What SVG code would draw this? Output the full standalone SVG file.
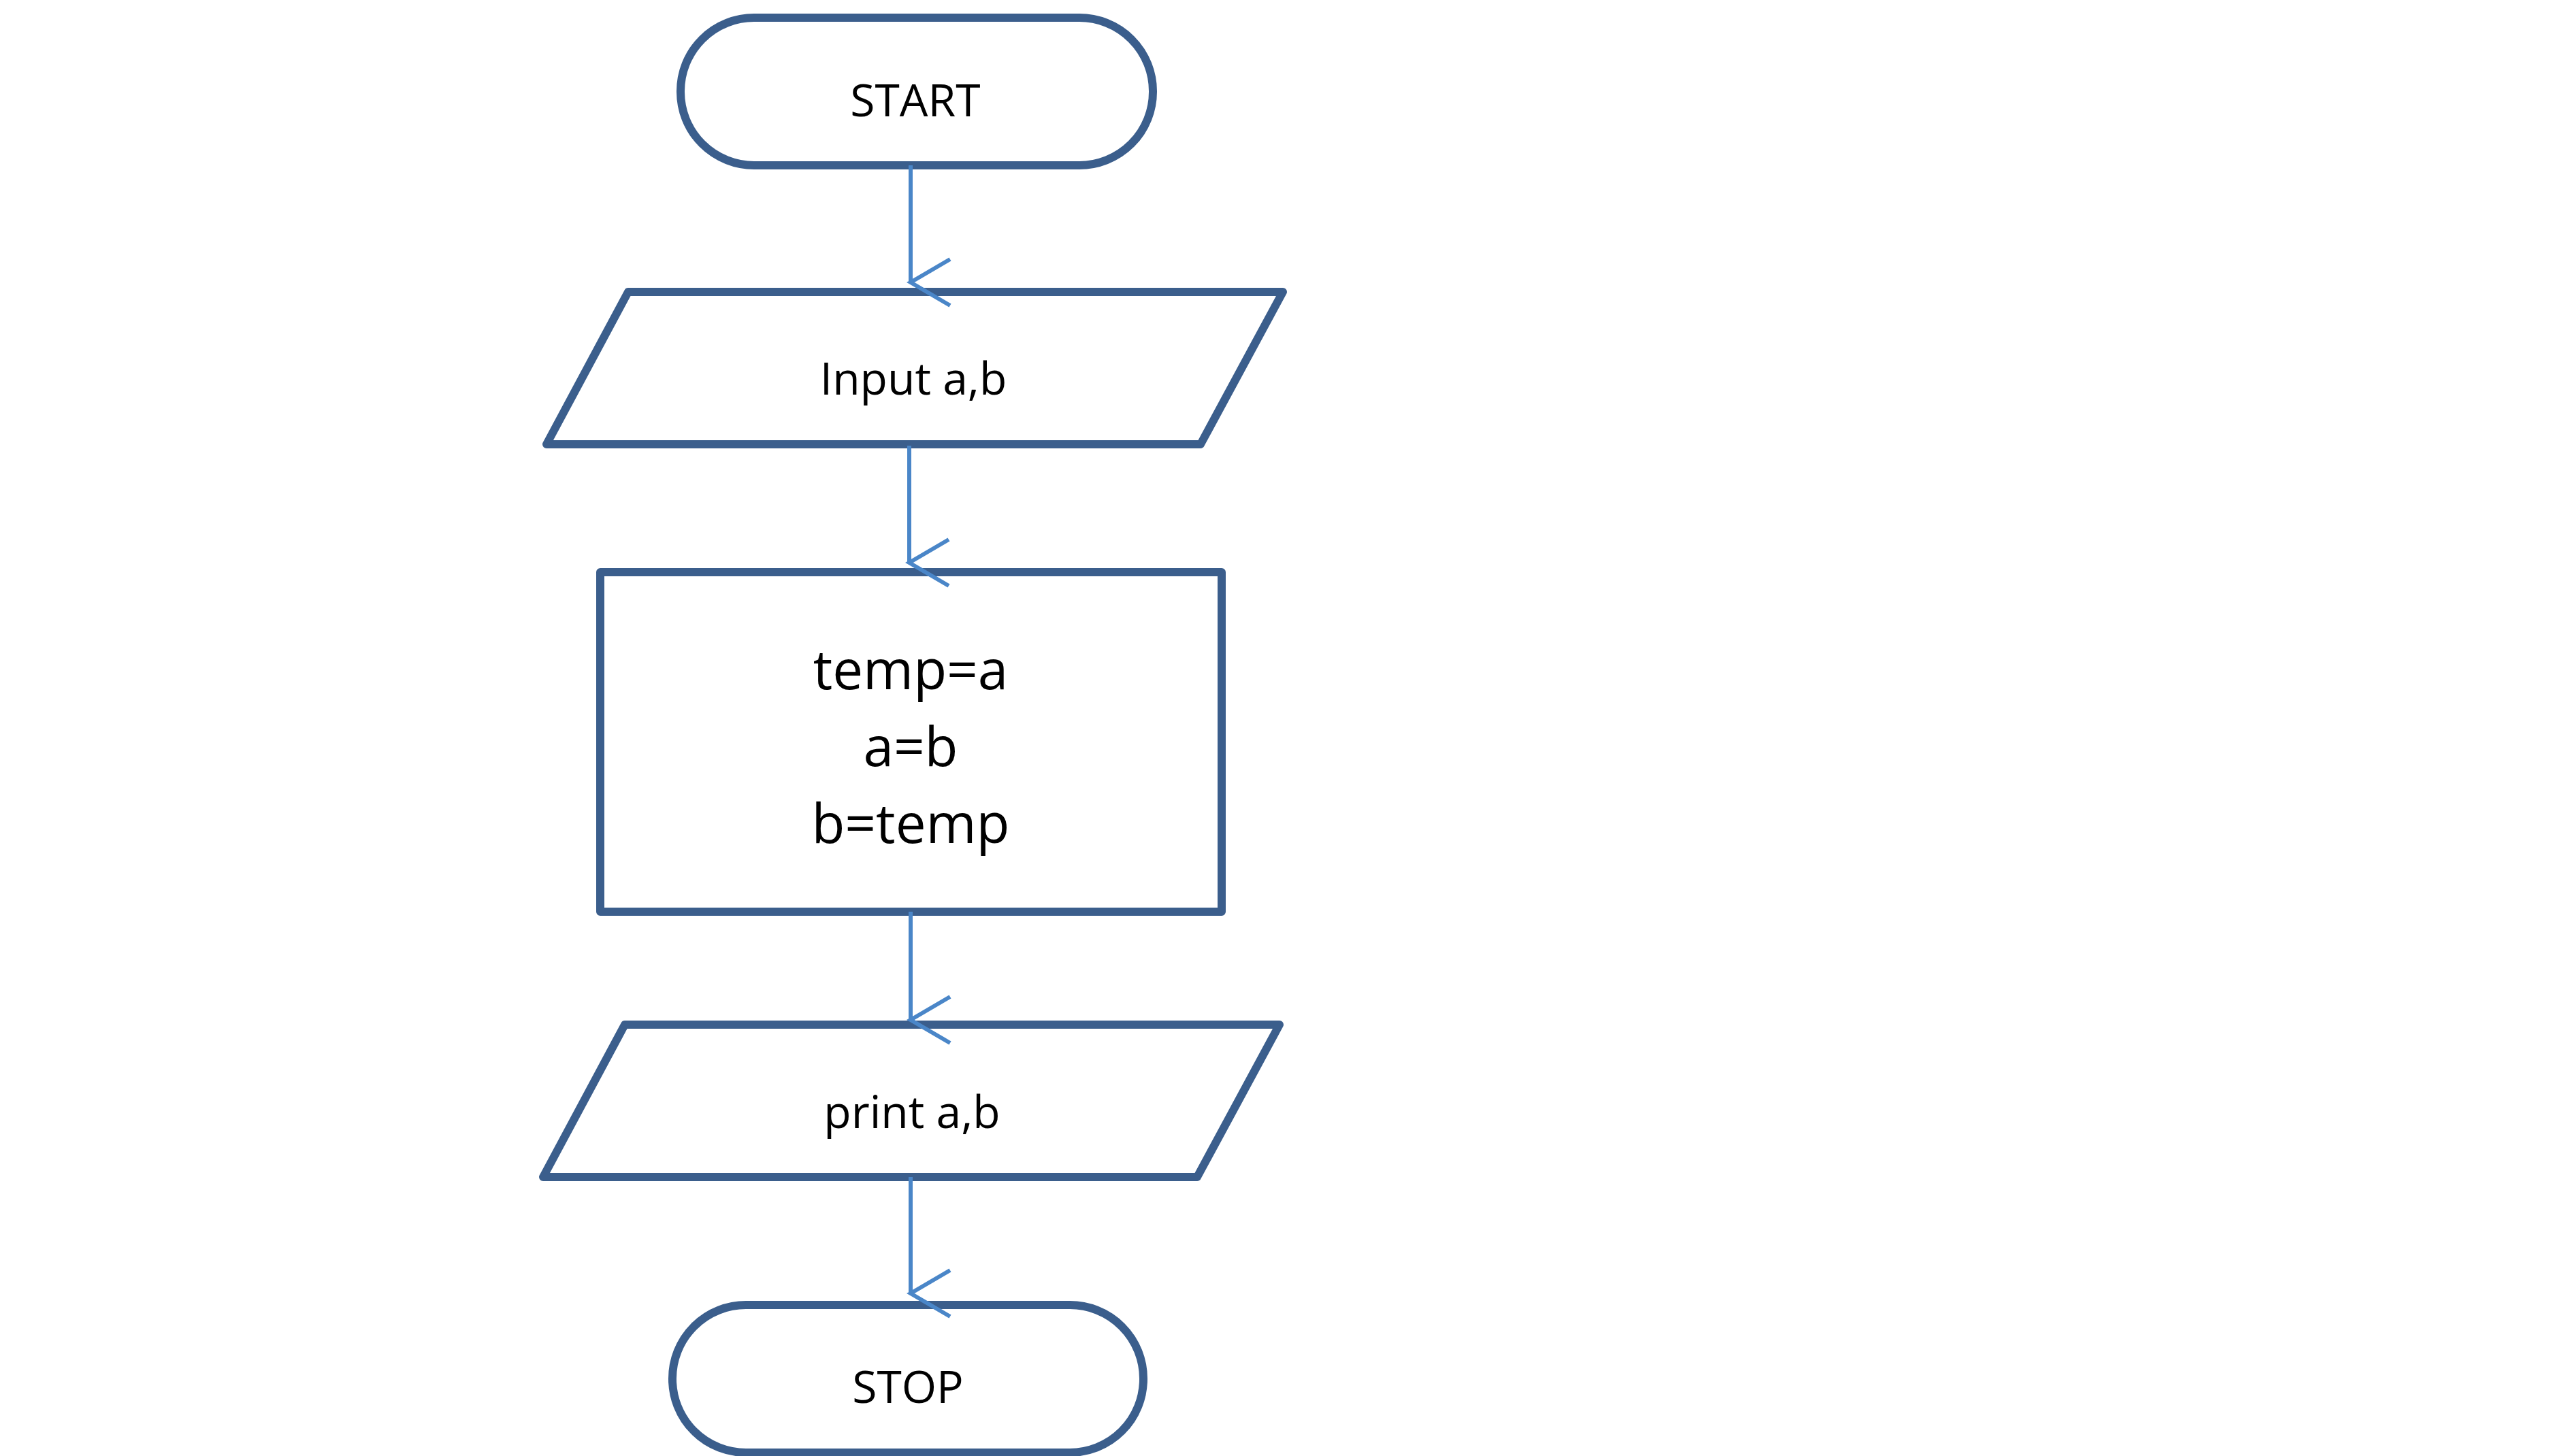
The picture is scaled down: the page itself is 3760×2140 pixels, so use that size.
<svg xmlns="http://www.w3.org/2000/svg" width="3760" height="2140" viewBox="0 0 3760 2140">
<style>
.s{fill:#fff;stroke:#3B5E8C;stroke-width:12;stroke-linejoin:round}
.t{font-family:"Open Sans","Liberation Sans",sans-serif;font-size:66px;fill:#000;text-anchor:middle;dominant-baseline:central}
.b{font-size:80px}
.c{stroke:#4A86C8;stroke-width:6;fill:none}
</style>
<defs><marker id="a" markerUnits="userSpaceOnUse" markerWidth="80" markerHeight="80" refX="40" refY="70" orient="auto-start-reverse" viewBox="0 0 80 80"><path d="M6,12 L40,70 L74,12" fill="none" stroke="#4A86C8" stroke-width="6"/></marker></defs>
<rect width="3760" height="2140" fill="#fff"/>
<g id="start"><rect class="s" x="1000" y="26" width="694" height="217" rx="108"/><text class="t" x="1345" y="145">START</text></g>
<g id="input"><polygon class="s" points="923,429 1885,429 1764,653 803,653"/><text class="t" x="1342" y="554">Input a,b</text></g>
<g id="process"><rect class="s" x="882" y="841" width="913" height="499"/><text class="t b" x="1338" y="981">temp=a</text><text class="t b" x="1338" y="1094">a=b</text><text class="t b" x="1338" y="1207">b=temp</text></g>
<g id="print"><polygon class="s" points="918,1506 1880,1506 1759,1730 798,1730"/><text class="t" x="1340" y="1632">print a,b</text></g>
<g id="stop"><rect class="s" x="988" y="1918" width="692" height="217" rx="108"/><text class="t" x="1334" y="2036">STOP</text></g>
<g id="connectors">
<line class="c" x1="1338" y1="243" x2="1338" y2="415" marker-end="url(#a)"/>
<line class="c" x1="1336" y1="655" x2="1336" y2="827" marker-end="url(#a)"/>
<line class="c" x1="1338" y1="1340" x2="1338" y2="1499" marker-end="url(#a)"/>
<line class="c" x1="1338" y1="1730" x2="1338" y2="1901" marker-end="url(#a)"/>
</g>
</svg>
